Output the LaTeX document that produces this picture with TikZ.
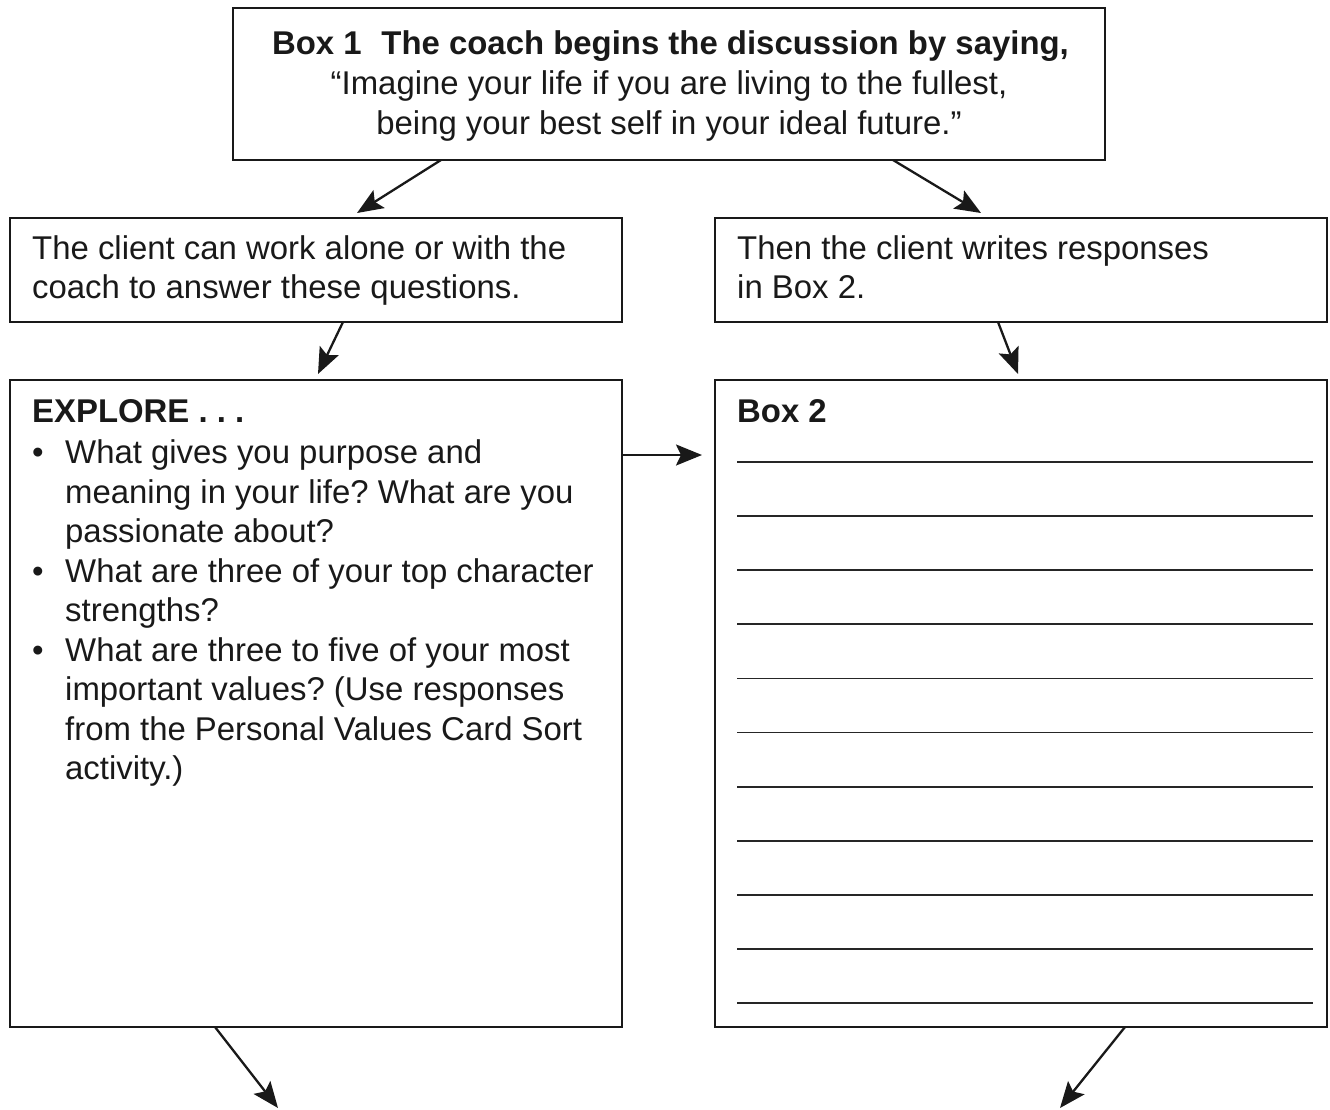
\documentclass[tikz,border=0pt]{standalone}
\usepackage{fontspec}
\setmainfont{Liberation Sans}
\usetikzlibrary{arrows.meta}
\frenchspacing
\begin{document}
\begin{tikzpicture}[x=1pt,y=-1pt,
  box/.style={draw=black!90,line width=2pt,rectangle,inner sep=0pt,outer sep=0pt,anchor=north west},
  txt/.style={font=\fontsize{32.9}{40}\selectfont\frenchspacing,anchor=base west,inner sep=0pt,text=black!90},
  ctxt/.style={txt,anchor=base},
  arr/.style={line width=2.3pt,draw=black!90,-{Stealth[length=26pt,width=21pt,inset=5pt]}},
  rule/.style={line width=1.8pt,draw=black!85}]
\useasboundingbox (0,0) rectangle (1330,1109);
% boxes
\node[box,minimum width=872pt,minimum height=152pt] (b1) at (233,8) {};
\node[box,minimum width=612pt,minimum height=104pt] (c1) at (10,218) {};
\node[box,minimum width=612pt,minimum height=104pt] (c2) at (715,218) {};
\node[box,minimum width=612pt,minimum height=647pt] (d1) at (10,380) {};
\node[box,minimum width=612pt,minimum height=647pt] (d2) at (715,380) {};
% box 1 text
\node[ctxt] (t1a) at (670.5,54) {\bfseries Box 1\hspace{0.6em}The coach begins the discussion by saying,};
\node[ctxt] (t1b) at (669,94) {“Imagine your life if you are living to the fullest,};
\node[ctxt] (t1c) at (669,134) {being your best self in your ideal future.”};
% c1 / c2 text
\node[txt] (t2a) at (32,259) {The client can work alone or with the};
\node[txt] (t2b) at (32,298) {coach to answer these questions.};
\node[txt] (t3a) at (737,259) {Then the client writes responses};
\node[txt] (t3b) at (737,298) {in Box 2.};
% explore
\node[txt] (ex) at (32,422) {\bfseries EXPLORE . . .};
\node[txt] (bu1) at (32,463.5) {•};
\node[txt] (bu2) at (32,582) {•};
\node[txt] (bu3) at (32,661) {•};
\node[txt] (l1) at (65,463.5) {What gives you purpose and};
\node[txt] (l2) at (65,503) {meaning in your life? What are you};
\node[txt] (l3) at (65,542.5) {passionate about?};
\node[txt] (l4) at (65,582) {What are three of your top character};
\node[txt] (l5) at (65,621.5) {strengths?};
\node[txt] (l6) at (65,661) {What are three to five of your most};
\node[txt] (l7) at (65,700.5) {important values? (Use responses};
\node[txt] (l8) at (65,740) {from the Personal Values Card Sort};
\node[txt] (l9) at (65,779.5) {activity.)};
% box 2
\node[txt] (bx2) at (737,422) {\bfseries Box 2};
\foreach \yy in {462,516.1,570.2,624.3,678.4,732.5,786.6,840.7,894.8,948.9,1003} {
  \draw[rule] (737,\yy) -- (1313,\yy);
}
% arrow end coordinates
\coordinate (e5) at (702,455);
\coordinate (e6) at (278,1108);
\coordinate (e7) at (1060,1108);
% arrows
\draw[arr] ([xshift=208pt]b1.south west) -- ([shift={(347pt,5pt)}]c1.north west);
\draw[arr] ([xshift=660pt]b1.south west) -- ([shift={(266pt,5pt)}]c2.north west);
\draw[arr] ([xshift=333pt]c1.south west) -- ([shift={(308pt,6pt)}]d1.north west);
\draw[arr] ([xshift=283pt]c2.south west) -- ([shift={(303pt,6pt)}]d2.north west);
\draw[arr] ([yshift=-75pt]d1.north east) -- (e5);
\draw[arr] ([xshift=205pt]d1.south west) -- (e6);
\draw[arr] ([xshift=410pt]d2.south west) -- (e7);
\end{tikzpicture}
\end{document}
